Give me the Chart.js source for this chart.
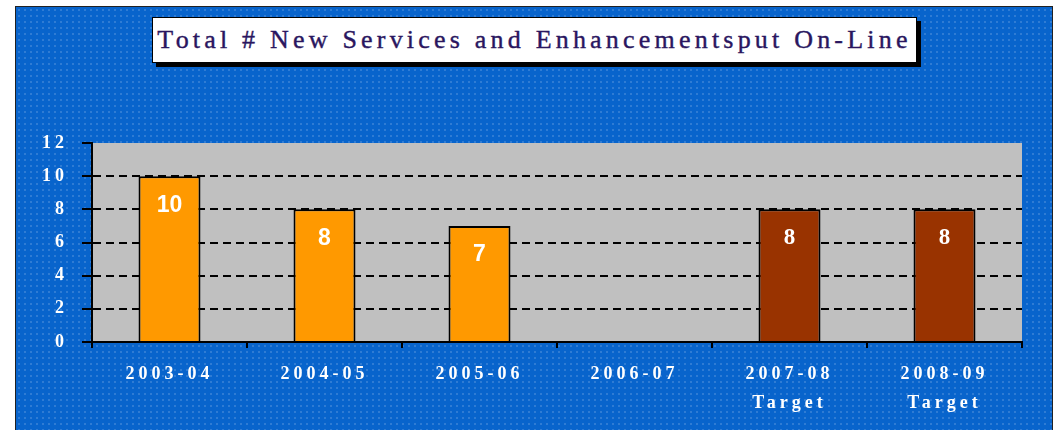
<!DOCTYPE html>
<html>
<head>
<meta charset="utf-8">
<script src="https://cdn.jsdelivr.net/npm/chart.js@4/dist/chart.umd.min.js"></script>
<style>
  html, body { margin: 0; padding: 0; background: #fff; }
  #wrap { position: relative; width: 1059px; height: 430px; overflow: hidden; }
  #panel {
    position: absolute; left: 15px; top: 6px; width: 1036px; height: 440px;
    border: 1px solid #222; border-bottom: none;
    background-color: #0864cc;
    background-image: radial-gradient(rgba(255,255,255,0.16) 0.7px, transparent 1.2px);
    background-size: 6px 6px;
  }
  #title {
    position: absolute; left: 152px; top: 17px; width: 763px; height: 44px;
    background: #fff; border: 1px solid #000; box-shadow: 4px 4px 0 #000;
    font-family: "Liberation Serif", serif; font-size: 26px; letter-spacing: 4.2px;
    color: #2a1660; text-align: center; line-height: 44px; white-space: nowrap;
    -webkit-text-stroke: 0.4px #2a1660;
  }
  #chart { position: absolute; left: 0; top: 0; }
</style>
</head>
<body>
<div id="wrap">
  <div id="panel"></div>
  <div id="title">Total # New Services and Enhancementsput On-Line</div>
  <canvas id="chart" width="1059" height="430"></canvas>
</div>
<script>
// categories and values
const categories = ["2003-04", "2004-05", "2005-06", "2006-07", ["2007-08", "Target"], ["2008-09", "Target"]];
const actual = [10, 8, 7, null, null, null];
const target = [null, null, null, null, 8, 8];
const yMax = 12;
const yStep = 2;

// gray plot background + letter spacing for axis text
const plotBg = {
  id: "plotBg",
  beforeDraw(chart) {
    const { ctx, chartArea: a } = chart;
    ctx.fillStyle = "#c0c0c0";
    ctx.fillRect(a.left, a.top, a.right - a.left, a.bottom - a.top);
    ctx.letterSpacing = "4px";
  }
};

// value labels inside the bars
const barLabels = {
  id: "barLabels",
  afterDatasetsDraw(chart) {
    const ctx = chart.ctx;
    chart.data.datasets.forEach((ds, i) => {
      chart.getDatasetMeta(i).data.forEach((bar, j) => {
        const v = ds.data[j];
        if (v == null) return;
        ctx.save();
        ctx.letterSpacing = "0px";
        ctx.fillStyle = "#fff";
        ctx.font = ds.labelFont;
        ctx.textAlign = "center";
        ctx.textBaseline = "middle";
        ctx.fillText(String(v), bar.x, bar.y + 29);
        ctx.restore();
      });
    });
  }
};

const ctx = document.getElementById("chart").getContext("2d");
new Chart(ctx, {
  type: "bar",
  data: {
    labels: categories,
    datasets: [
      {
        label: "Actual",
        data: actual,
        backgroundColor: "#ff9900",
        borderColor: "#000",
        borderWidth: 2,
        labelFont: "bold 23px 'Liberation Sans', Arial, sans-serif"
      },
      {
        label: "Target",
        data: target,
        backgroundColor: "#993300",
        borderColor: "#000",
        borderWidth: 2,
        labelFont: "bold 23px 'Liberation Serif', serif"
      }
    ]
  },
  options: {
    responsive: false,
    animation: false,
    barPercentage: 0.4,
    categoryPercentage: 1,
    layout: { padding: { left: 32, right: 37, top: 143, bottom: 8 } },
    plugins: {
      legend: { display: false },
      tooltip: { enabled: false }
    },
    scales: {
      x: {
        stacked: true,
        afterFit: s => { s.height = 80; },
        grid: { drawOnChartArea: false, drawTicks: true, tickLength: 6, lineWidth: 2, color: "#000", offset: true },
        border: { color: "#000", width: 2 },
        ticks: {
          color: "#fff",
          padding: 12,
          maxRotation: 0,
          autoSkip: false,
          font: { family: "'Liberation Serif', serif", size: 18, weight: "bold", lineHeight: 1.6 }
        }
      },
      y: {
        stacked: true,
        min: 0,
        max: yMax,
        afterFit: s => { s.width = 60; },
        grid: {
          lineWidth: 2,
          tickLength: 10,
          tickColor: "#000",
          color: c => (c.tick && (c.tick.value === 0 || c.tick.value === yMax)) ? "rgba(0,0,0,0)" : "#000"
        },
        border: { color: "#000", width: 2, dash: [8, 5] },
        ticks: {
          stepSize: yStep,
          color: "#fff",
          padding: 14,
          font: { family: "'Liberation Serif', serif", size: 18, weight: "bold" }
        }
      }
    }
  },
  plugins: [plotBg, barLabels]
});
</script>
</body>
</html>
